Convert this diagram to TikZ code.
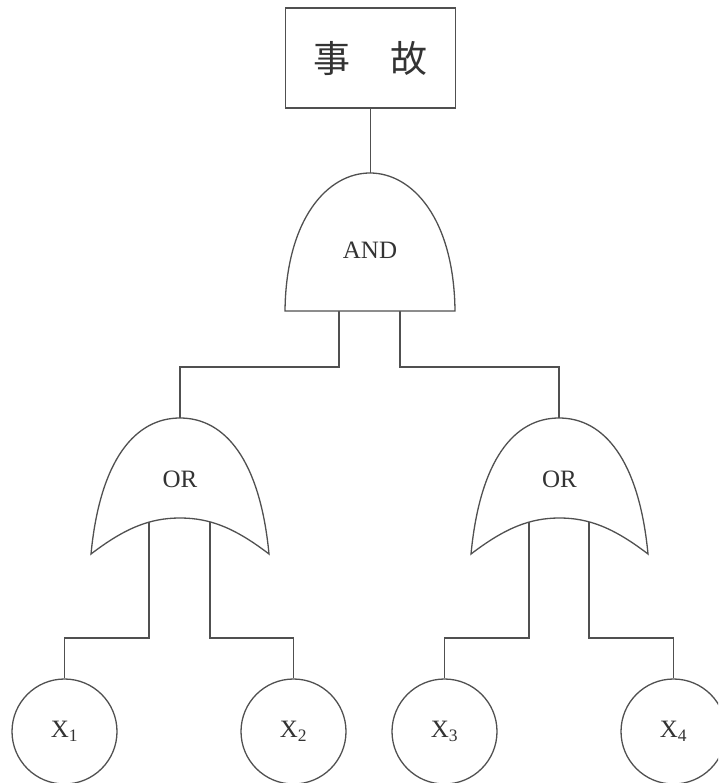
\documentclass[tikz,border=0pt]{standalone}
\usepackage{fontspec}
\setmainfont{Liberation Serif}
\newfontfamily\cjk{Noto Sans CJK SC}
\definecolor{ln}{HTML}{505050}
\definecolor{tx}{HTML}{333333}
\tikzset{
  wire/.style={draw=ln,line width=1.3pt},
  gate/.style={draw=ln,line width=1.3pt,fill=white},
  lbl/.style={text=tx,font=\fontsize{25}{27}\selectfont,inner sep=0pt},
  evt/.style={draw=ln,line width=1.3pt,minimum width=170pt,minimum height=100pt,inner sep=0pt,fill=white},
  basic/.style={circle,draw=ln,line width=1.3pt,minimum size=105pt,inner sep=0pt,fill=white,text=tx,font=\fontsize{25}{27}\selectfont}
}
\begin{document}
\begin{tikzpicture}[x=1pt,y=-1pt]
\useasboundingbox (0,0) rectangle (718,783);
\clip (0,0) rectangle (718,783);
% coordinates
\coordinate (andtop) at (370,173);
\coordinate (andL) at (339,311);
\coordinate (andR) at (400,311);
\coordinate (orAtop) at (180,418);
\coordinate (orBtop) at (559,418);
\coordinate (orA1) at (149,520);
\coordinate (orA2) at (210,520);
\coordinate (orB1) at (529,520);
\coordinate (orB2) at (589,520);
% nodes
\node[evt] (event) at (370.5,58) {};
\node[basic] (x1) at (64.5,731.5) {X\textsubscript{1}};
\node[basic] (x2) at (293.5,731.5) {X\textsubscript{2}};
\node[basic] (x3) at (444.5,731.5) {X\textsubscript{3}};
\node[basic] (x4) at (673.5,731.5) {X\textsubscript{4}};
% connectors
\draw[wire] (event.south) -- (event.south |- andtop);
\draw[wire] (andL) -- ++(0,56) -| (orAtop);
\draw[wire] (andR) -- ++(0,56) -| (orBtop);
\draw[wire] (orA1) -- ++(0,118) -| (x1.north);
\draw[wire] (orA2) -- ++(0,118) -| (x2.north);
\draw[wire] (orB1) -- ++(0,118) -| (x3.north);
\draw[wire] (orB2) -- ++(0,118) -| (x4.north);
% AND gate
\draw[gate] (285,311) .. controls (286,218) and (328,173) .. (andtop)
  .. controls (412,173) and (454,218) .. (455,311) -- cycle;
% OR gates
\draw[gate] (91,554) .. controls (100,460) and (135,418) .. (orAtop)
  .. controls (225,418) and (260,460) .. (269,554)
  .. controls (235,528) and (210,518) .. (180,518)
  .. controls (150,518) and (125,528) .. (91,554) -- cycle;
\draw[gate] (471,554) .. controls (480,460) and (514,418) .. (orBtop)
  .. controls (604,418) and (639,460) .. (648,554)
  .. controls (614,528) and (589,518) .. (559.5,518)
  .. controls (530,518) and (505,528) .. (471,554) -- cycle;
% labels
\node[text=tx,inner sep=0pt,font=\cjk\fontsize{37}{40}\selectfont] (evtxt) at (event.center) {事\hspace{40pt}故};
\node[lbl] (andtxt) at (370,250) {AND};
\node[lbl] (oratxt) at (180,479) {OR};
\node[lbl] (orbtxt) at (559.5,479) {OR};
\end{tikzpicture}
\end{document}
